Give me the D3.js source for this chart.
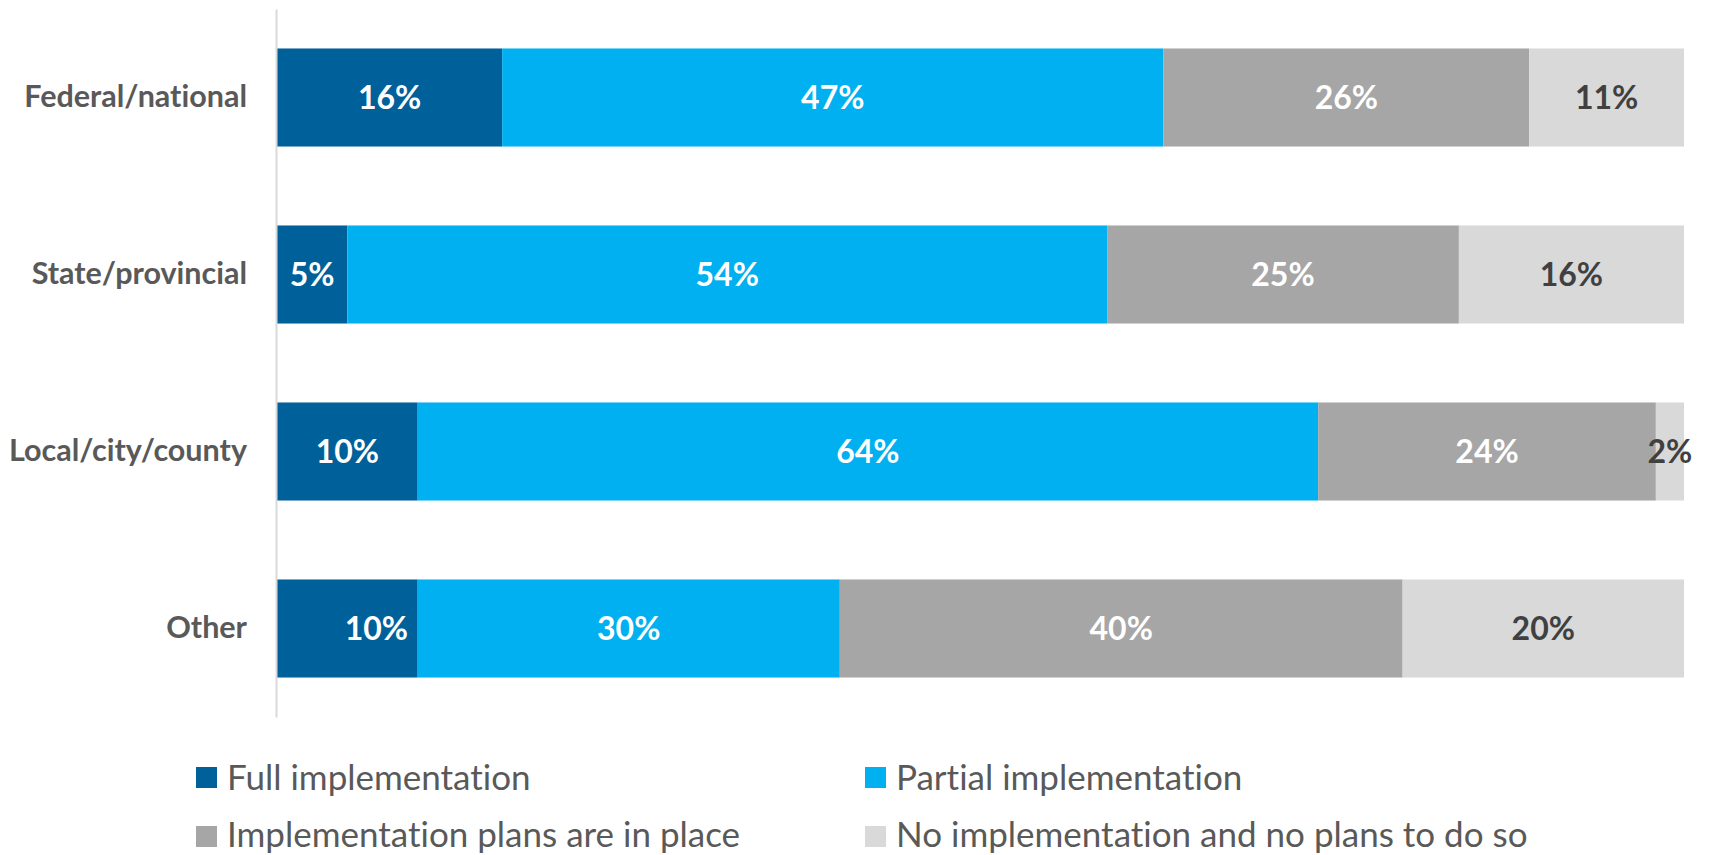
<!DOCTYPE html>
<html>
<head>
<meta charset="utf-8">
<script src="https://cdn.jsdelivr.net/npm/d3@7"></script>
<style>
  html, body { margin: 0; padding: 0; background: #fff; }
  svg { display: block; }
  text { font-family: Lato, "Open Sans", sans-serif; font-variant-ligatures: none; }
</style>
</head>
<body>
<svg id="chart" width="1709" height="855"></svg>
<script>
// Levels of government and the share of each implementation status
const categories = ["Federal/national", "State/provincial", "Local/city/county", "Other"];
const seriesNames = ["Full implementation", "Partial implementation", "Implementation plans are in place", "No implementation and no plans to do so"];
const fullImpl    = [16, 5, 10, 10];
const partialImpl = [47, 54, 64, 30];
const plansInPlace = [26, 25, 24, 40];
const noPlans     = [11, 16, 2, 20];

const seriesValues = [fullImpl, partialImpl, plansInPlace, noPlans];
const colors = ["#00609A", "#00B0F0", "#A6A6A6", "#D9D9D9"];
const labelColors = ["#ffffff", "#ffffff", "#ffffff", "#404040"];

const svg = d3.select("#chart");

const x = d3.scaleLinear().domain([0, 100]).range([277, 1684]);
const y = d3.scaleBand().domain(categories).range([9, 717])
  .paddingInner(0.446).paddingOuter(0.223);

// Build stacked rows
const rows = categories.map((c, i) => {
  const r = { category: c };
  seriesNames.forEach((s, k) => { r[s] = seriesValues[k][i]; });
  return r;
});
const stacked = d3.stack().keys(seriesNames)(rows);

// Bars
const layers = svg.append("g").selectAll("g")
  .data(stacked)
  .join("g")
  .attr("fill", (d, k) => colors[k]);

layers.selectAll("rect")
  .data(d => d.map(p => ({ p, key: d.key })))
  .join("rect")
  .attr("x", d => x(d.p[0]))
  .attr("y", d => y(d.p.data.category))
  .attr("width", d => x(d.p[1]) - x(d.p[0]))
  .attr("height", y.bandwidth());

// Label placement tweak for the "Other" full-implementation segment
const labelShift = { "Other|Full implementation": 29 };

// Value labels
stacked.forEach((layer, k) => {
  svg.append("g").selectAll("text")
    .data(layer)
    .join("text")
    .attr("x", d => (x(d[0]) + x(d[1])) / 2 + (labelShift[d.data.category + "|" + layer.key] || 0))
    .attr("y", d => y(d.data.category) + y.bandwidth() / 2)
    .attr("dy", "0.36em")
    .attr("text-anchor", "middle")
    .attr("fill", labelColors[k])
    .attr("font-size", 32)
    .attr("font-weight", "bold")
    .text(d => (d[1] - d[0]) + "%");
});

// Category axis
const axis = d3.axisLeft(y).tickSize(0).tickPadding(29);
const gAxis = svg.append("g")
  .attr("transform", `translate(${x(0) - 1},0)`)
  .call(axis);
gAxis.select(".domain").attr("stroke", "#D9D9D9").attr("stroke-width", 2);
gAxis.selectAll("text")
  .attr("font-family", "Lato, 'Open Sans', sans-serif")
  .attr("font-size", 30.5)
  .attr("font-weight", "bold")
  .attr("fill", "#595959");

// Legend (2 x 2)
const legendPos = [[196, 767], [865, 767], [196, 826], [865, 826]];
const legend = svg.append("g").selectAll("g")
  .data(seriesNames)
  .join("g")
  .attr("transform", (d, k) => `translate(${legendPos[k][0]},${legendPos[k][1]})`);
legend.append("rect")
  .attr("width", 21).attr("height", 21)
  .attr("fill", (d, k) => colors[k]);
legend.append("text")
  .attr("x", 31).attr("y", (d, k) => k < 2 ? 10.5 : 8)
  .attr("dy", "0.36em")
  .attr("font-size", 35)
  .attr("fill", "#595959")
  .text(d => d);
</script>
</body>
</html>
